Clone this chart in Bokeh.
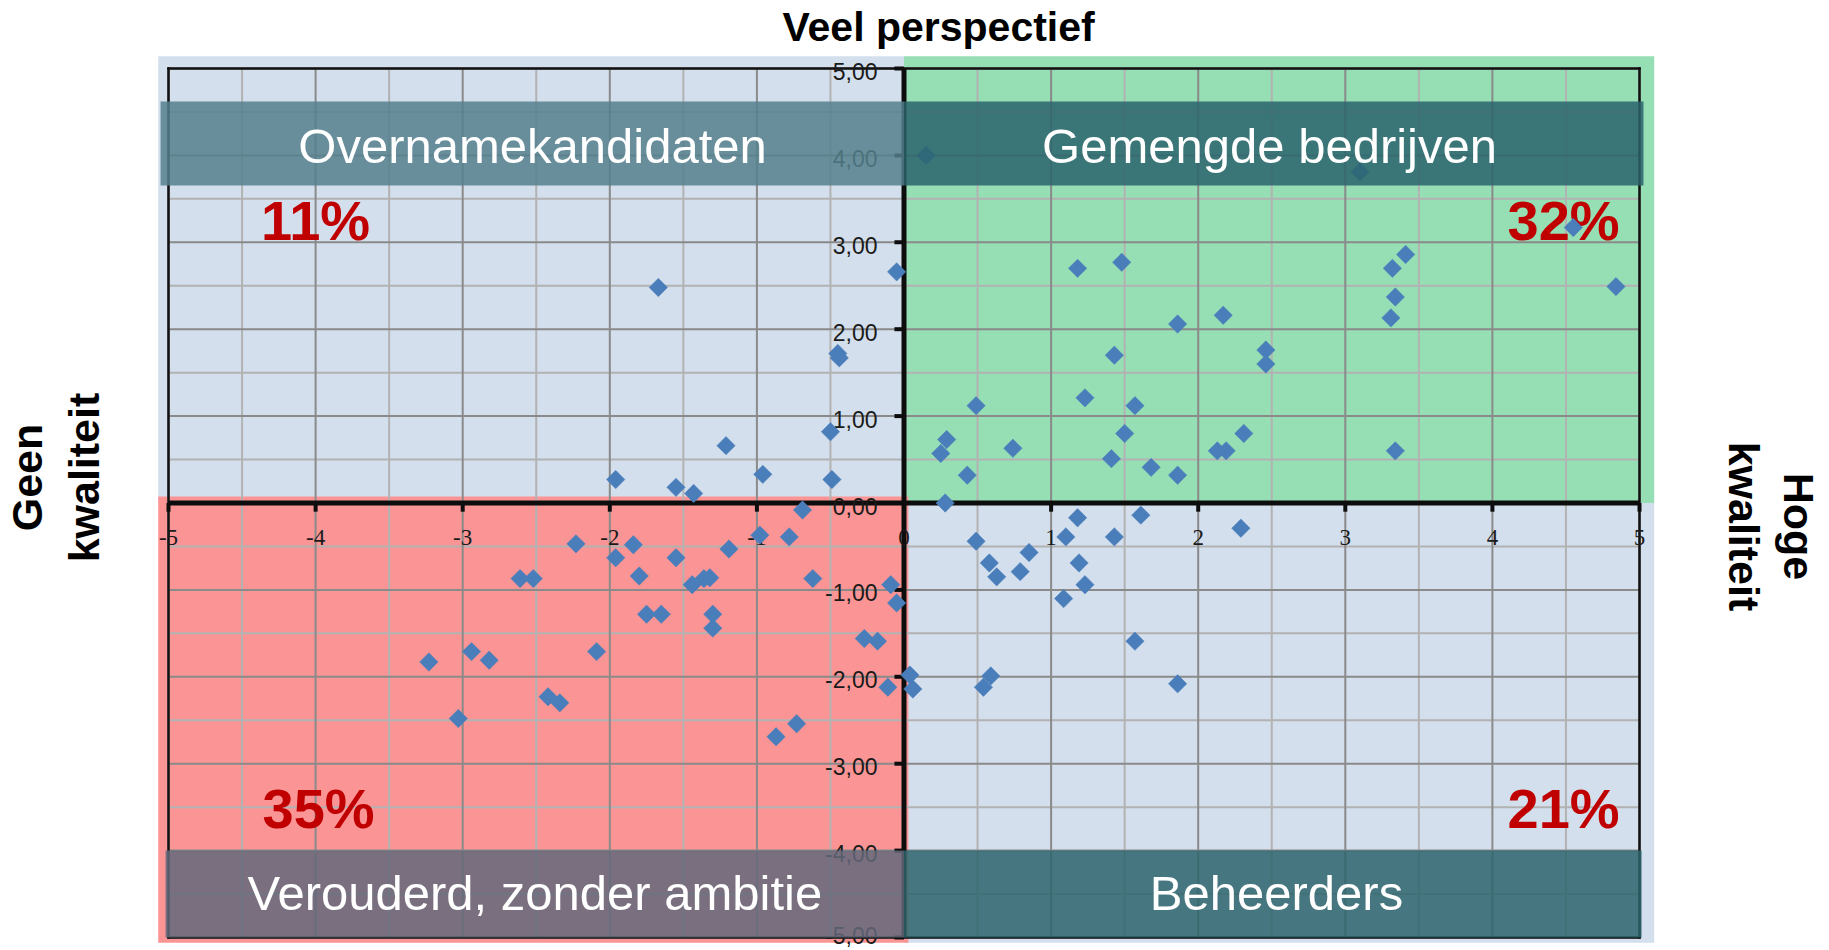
import numpy as np
from bokeh.plotting import figure
from bokeh.models import Range1d
from bokeh.core.properties import value
from bokeh.embed import file_html
from bokeh.resources import INLINE

# ---------------- data ----------------
kwaliteit = [
    -1.67, -0.05, -0.45, -0.44, -0.50, -1.21, -0.96, -0.49, -1.96, -1.55, -1.43,
    0.15, 3.10, 4.55, 3.41, 3.32, 4.84, 1.18, 1.48, 3.34, 3.31, 2.17, 1.86, 2.46,
    2.46, 1.43, 1.23, 0.49, 1.57, 1.50, 2.31, 0.29, 0.25, 0.74, 2.13, 2.19, 3.34,
    1.41, 0.43, 1.68, 1.86, 0.28,
    -0.69, -0.78, -0.98, -2.23, -1.84, -1.19, -1.96, -1.55, -2.61, -2.52, -1.80,
    -0.62, -1.44, -1.36, -1.32, -0.09, -0.05, -1.75, -1.65, -1.30, -1.30, -0.27,
    -0.18, -2.94, -2.82, -3.23, -2.09, -0.11, -2.42, -2.34, -3.03, -0.73, -0.87,
    0.04, 0.06, 1.18, 1.61, 2.29, 0.49, 1.10, 1.43, 0.85, 0.58, 1.19, 0.79, 0.63,
    1.23, 1.085, 1.57, 0.59, 0.54, 1.86,
]
perspectief = [
    2.48, 2.66, 1.72, 1.67, 0.82, 0.66, 0.33, 0.27, 0.27, 0.18, 0.11,
    4.00, 3.81, 3.17, 2.86, 2.70, 2.49, 2.70, 2.77, 2.37, 2.13, 2.16, 2.06, 1.76,
    1.60, 1.70, 1.21, 1.12, 1.12, 0.80, 0.80, 0.73, 0.57, 0.63, 0.60, 0.60, 0.60,
    0.51, 0.32, 0.41, 0.32, 0.00,
    -0.08, -0.39, -0.37, -0.47, -0.48, -0.53, -0.63, -0.63, -0.87, -0.87, -0.84,
    -0.87, -0.94, -0.87, -0.86, -0.94, -1.15, -1.28, -1.28, -1.28, -1.44, -1.56,
    -1.59, -1.71, -1.81, -1.83, -1.71, -2.12, -2.23, -2.30, -2.48, -2.54, -2.69,
    -1.98, -2.14, -0.17, -0.14, -0.29, -0.44, -0.39, -0.39, -0.57, -0.69, -0.69,
    -0.79, -0.85, -0.94, -1.10, -1.59, -1.99, -2.12, -2.08,
]
x_ticks = [-5, -4, -3, -2, -1, 0, 1, 2, 3, 4, 5]
x_tick_labels = ["-5", "-4", "-3", "-2", "-1", "0", "1", "2", "3", "4", "5"]
y_ticks = [5, 4, 3, 2, 1, 0, -1, -2, -3, -4, -5]
y_tick_labels = ["5,00", "4,00", "3,00", "2,00", "1,00", "0,00",
                 "-1,00", "-2,00", "-3,00", "-4,00", "-5,00"]
quadrant_names = ["Overnamekandidaten", "Gemengde bedrijven",
                  "Verouderd, zonder ambitie", "Beheerders"]
quadrant_shares = ["11%", "32%", "35%", "21%"]
title_text = "Veel perspectief"
left_lines = ["Geen", "kwaliteit"]
right_lines = ["Hoge", "kwaliteit"]

# ---------------- figure (frame = whole canvas) ----------------
p = figure(width=1829, height=950, output_backend="svg", toolbar_location=None,
           x_range=Range1d(-6.1421, 6.2916), y_range=Range1d(-5.1496, 5.7825),
           x_axis_location=None, y_axis_location=None,
           min_border_left=0, min_border_right=0,
           min_border_top=0, min_border_bottom=0)
p.outline_line_color = None
p.grid.visible = False
p.background_fill_color = "white"
p.border_fill_color = "white"

LIGHT = "#D3DFEC"
GREEN = "#96DEB4"
RED = "#FB9595"

# quadrant backgrounds
p.quad(left=[-5.07], right=[0.0], bottom=[0.0], top=[5.14], fill_color=LIGHT, line_color=None)
p.quad(left=[0.0], right=[5.10], bottom=[-5.06], top=[0.0], fill_color=LIGHT, line_color=None)
p.quad(left=[0.0], right=[5.10], bottom=[0.0], top=[5.14], fill_color=GREEN, line_color=None)
p.quad(left=[-5.07], right=[0.03], bottom=[-5.06], top=[0.075], fill_color=RED, line_color=None)

# grid lines
minor = np.arange(-4.5, 5.0, 1.0)
major = np.array(x_ticks, dtype=float)
ymajor = np.array(y_ticks, dtype=float)
p.segment(x0=minor, y0=-5, x1=minor, y1=5, line_color="#B2B2B2", line_width=2)
p.segment(x0=-5, y0=minor, x1=5, y1=minor, line_color="#B2B2B2", line_width=2)
p.segment(x0=major, y0=-5, x1=major, y1=5, line_color="#8A8A8A", line_width=2)
p.segment(x0=-5, y0=ymajor, x1=5, y1=ymajor, line_color="#8A8A8A", line_width=2)

# frame
p.segment(x0=[-5, -5, -5, 5], y0=[-5, 5, -5, -5], x1=[5, 5, -5, 5], y1=[-5, 5, 5, 5],
          line_color="#111111", line_width=2.5, line_cap="square")

# central axes
p.segment(x0=[0], y0=[-5], x1=[0], y1=[5], line_color="#0D0D0D", line_width=5)
p.segment(x0=[-5], y0=[0], x1=[5], y1=[0], line_color="#0D0D0D", line_width=5)
p.segment(x0=-0.065, y0=ymajor, x1=0, y1=ymajor, line_color="#0D0D0D", line_width=4)
p.segment(x0=major, y0=0, x1=major, y1=-0.1, line_color="#0D0D0D", line_width=4)

# tick labels (lowest one nudged up so it stays inside the page)
p.text(x=[-0.18] * len(y_ticks), y=[max(v - 0.035, -4.975) for v in y_ticks],
       text=y_tick_labels,
       text_font=value("Liberation Sans"), text_font_size=value("23px"),
       text_color="#1A1A1A", text_align="right", text_baseline="middle")
p.text(x=x_ticks, y=[-0.40] * len(x_ticks), text=x_tick_labels,
       text_font=value("Liberation Serif"), text_font_size=value("23px"),
       text_color="#1A1A1A", text_align="center", text_baseline="middle")

# percentages
p.text(x=[-4.0, 4.484, -3.98, 4.484], y=[3.25, 3.25, -3.515, -3.515], text=quadrant_shares,
       text_font=value("Liberation Sans"), text_font_style="bold",
       text_font_size=value("56px"), text_color="#C00000",
       text_align="center", text_baseline="middle")

# points
p.scatter(kwaliteit, perspectief, marker="square", angle=np.pi / 4, size=13,
          fill_color="#4A7EBB", line_color="#4A7EBB", line_width=0.5)

# banners
p.quad(left=[-5.054], right=[0.0], bottom=[3.654], top=[4.62],
       fill_color="#55808D", fill_alpha=0.85, line_color=None)
p.quad(left=[0.0], right=[5.027], bottom=[3.654], top=[4.62],
       fill_color="#2A646C", fill_alpha=0.85, line_color=None)
p.quad(left=[-5.02], right=[0.0], bottom=[-5.0], top=[-4.0],
       fill_color="#63687A", fill_alpha=0.85, line_color=None)
p.quad(left=[0.0], right=[5.014], bottom=[-5.0], top=[-4.0],
       fill_color="#2D646C", fill_alpha=0.85, line_color=None)

p.text(x=[-2.525, 2.485, -2.51, 2.532], y=[4.108, 4.108, -4.488, -4.488], text=quadrant_names,
       text_font=value("Liberation Sans"), text_font_size=value("49px"),
       text_color="white", text_align="center", text_baseline="middle")

# outer labels
p.text(x=[0.235], y=[5.483], text=[title_text], text_font=value("Liberation Sans"),
       text_font_style="bold", text_font_size=value("41px"), text_color="black",
       text_align="center", text_baseline="middle")
p.text(x=[-5.959, -5.574], y=[0.293, 0.293], text=left_lines, angle=np.pi / 2,
       text_font=value("Liberation Sans"), text_font_style="bold",
       text_font_size=value("43px"), text_color="black",
       text_align="center", text_baseline="middle")
p.text(x=[6.083, 5.71], y=[-0.27, -0.27], text=right_lines, angle=-np.pi / 2,
       text_font=value("Liberation Sans"), text_font_style="bold",
       text_font_size=value("43px"), text_color="black",
       text_align="center", text_baseline="middle")

open("out.html", "w").write(file_html(p, INLINE))
